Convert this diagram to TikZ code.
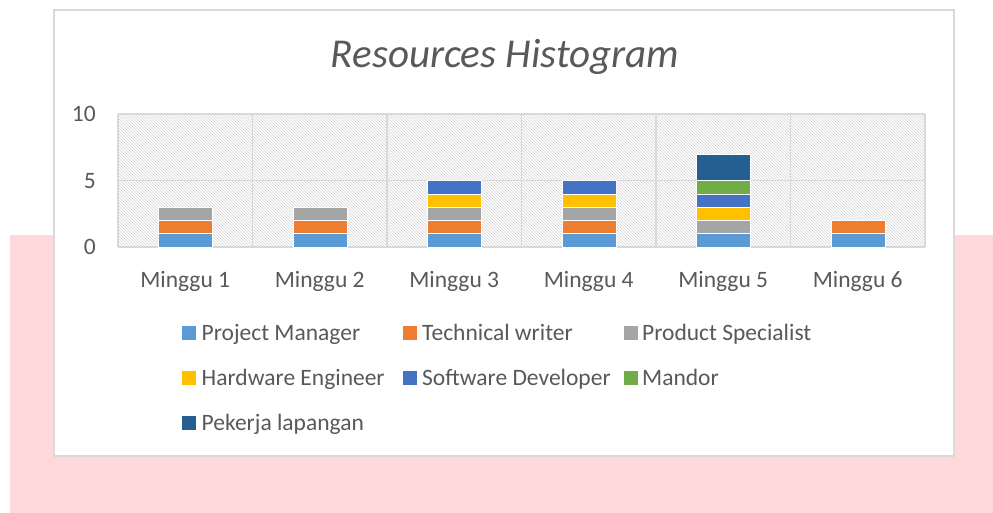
\documentclass[tikz,border=0pt]{standalone}
\usepackage{fontspec}
\setmainfont{Carlito}
\usetikzlibrary{patterns}
\definecolor{pinkbg}{RGB}{255,216,220}
\definecolor{txt}{RGB}{89,89,89}
\definecolor{gridc}{RGB}{217,217,217}
\definecolor{hatchc}{RGB}{212,212,212}
\definecolor{cPM}{RGB}{91,155,213}
\definecolor{cTW}{RGB}{237,125,49}
\definecolor{cPS}{RGB}{165,165,165}
\definecolor{cHE}{RGB}{255,192,0}
\definecolor{cSD}{RGB}{68,114,196}
\definecolor{cMD}{RGB}{112,173,71}
\definecolor{cPL}{RGB}{37,94,145}
\newcommand\barseg[4]{\fill[#4, draw=white, line width=0.5] ({#1-27},{247-#2*13.3}) rectangle ({#1+27},{247-#3*13.3});}
\begin{document}
\begin{tikzpicture}[x=1pt,y=-1pt,
  lbl/.style={text=txt, font=\fontsize{23.5}{23.5}\selectfont, inner sep=0pt},
  gridline/.style={draw=gridc, line width=1.6},
  sw/.style={minimum width=14, minimum height=14, inner sep=0pt, anchor=north west}]
\useasboundingbox (0,0) rectangle (993,513);
% pink background
\fill[pinkbg] (10,235) rectangle (993,513);
% chart box
\filldraw[fill=white, draw=gridc, line width=1.2] (54,10) rectangle (954,456);
% title
\node[text=txt, font=\fontsize{41}{41}\selectfont\itshape, anchor=base, inner sep=0pt] (title) at (505,68) {Resources Histogram};
% plot area hatch
\fill[pattern=north west lines, pattern color=hatchc] (118,114) rectangle (925,247);
% grid
\foreach \yy in {114,180.5,247} \draw[gridline] (118,\yy) -- (925,\yy);
\foreach \k in {0,...,6} \draw[gridline] ({118+134.5*\k},114) -- ({118+134.5*\k},247);
% y labels
\node[lbl, anchor=east] (y10) at (96,114) {10};
\node[lbl, anchor=east] (y5) at (96,181) {5};
\node[lbl, anchor=east] (y0) at (96,247) {0};
% bars
% Minggu 1
\barseg{185.25}{0}{1}{cPM}\barseg{185.25}{1}{2}{cTW}\barseg{185.25}{2}{3}{cPS}
% Minggu 2
\barseg{319.75}{0}{1}{cPM}\barseg{319.75}{1}{2}{cTW}\barseg{319.75}{2}{3}{cPS}
% Minggu 3
\barseg{454.25}{0}{1}{cPM}\barseg{454.25}{1}{2}{cTW}\barseg{454.25}{2}{3}{cPS}\barseg{454.25}{3}{4}{cHE}\barseg{454.25}{4}{5}{cSD}
% Minggu 4
\barseg{588.75}{0}{1}{cPM}\barseg{588.75}{1}{2}{cTW}\barseg{588.75}{2}{3}{cPS}\barseg{588.75}{3}{4}{cHE}\barseg{588.75}{4}{5}{cSD}
% Minggu 5
\barseg{723.25}{0}{1}{cPM}\barseg{723.25}{1}{2}{cPS}\barseg{723.25}{2}{3}{cHE}\barseg{723.25}{3}{4}{cSD}\barseg{723.25}{4}{5}{cMD}\barseg{723.25}{5}{7}{cPL}
% Minggu 6
\barseg{857.75}{0}{1}{cPM}\barseg{857.75}{1}{2}{cTW}
% x labels
\foreach \k in {1,...,6}
  \node[lbl, anchor=base] (x\k) at ({118+134.5*(\k-0.5)},287) {Minggu \k};
% legend
\node[sw, fill=cPM] (s1) at (182,326) {};
\node[lbl, anchor=base west] (l1) at (201.5,340) {Project Manager};
\node[sw, fill=cTW] (s2) at (403,326) {};
\node[lbl, anchor=base west] (l2) at (422,340) {Technical writer};
\node[sw, fill=cPS] (s3) at (624,326) {};
\node[lbl, anchor=base west] (l3) at (642,340) {Product Specialist};
\node[sw, fill=cHE] (s4) at (182,371) {};
\node[lbl, anchor=base west] (l4) at (201.5,385) {Hardware Engineer};
\node[sw, fill=cSD] (s5) at (403,371) {};
\node[lbl, anchor=base west] (l5) at (422,385) {Software Developer};
\node[sw, fill=cMD] (s6) at (624,371) {};
\node[lbl, anchor=base west] (l6) at (642,385) {Mandor};
\node[sw, fill=cPL] (s7) at (182,416) {};
\node[lbl, anchor=base west] (l7) at (201.5,430) {Pekerja lapangan};
\end{tikzpicture}
\end{document}
